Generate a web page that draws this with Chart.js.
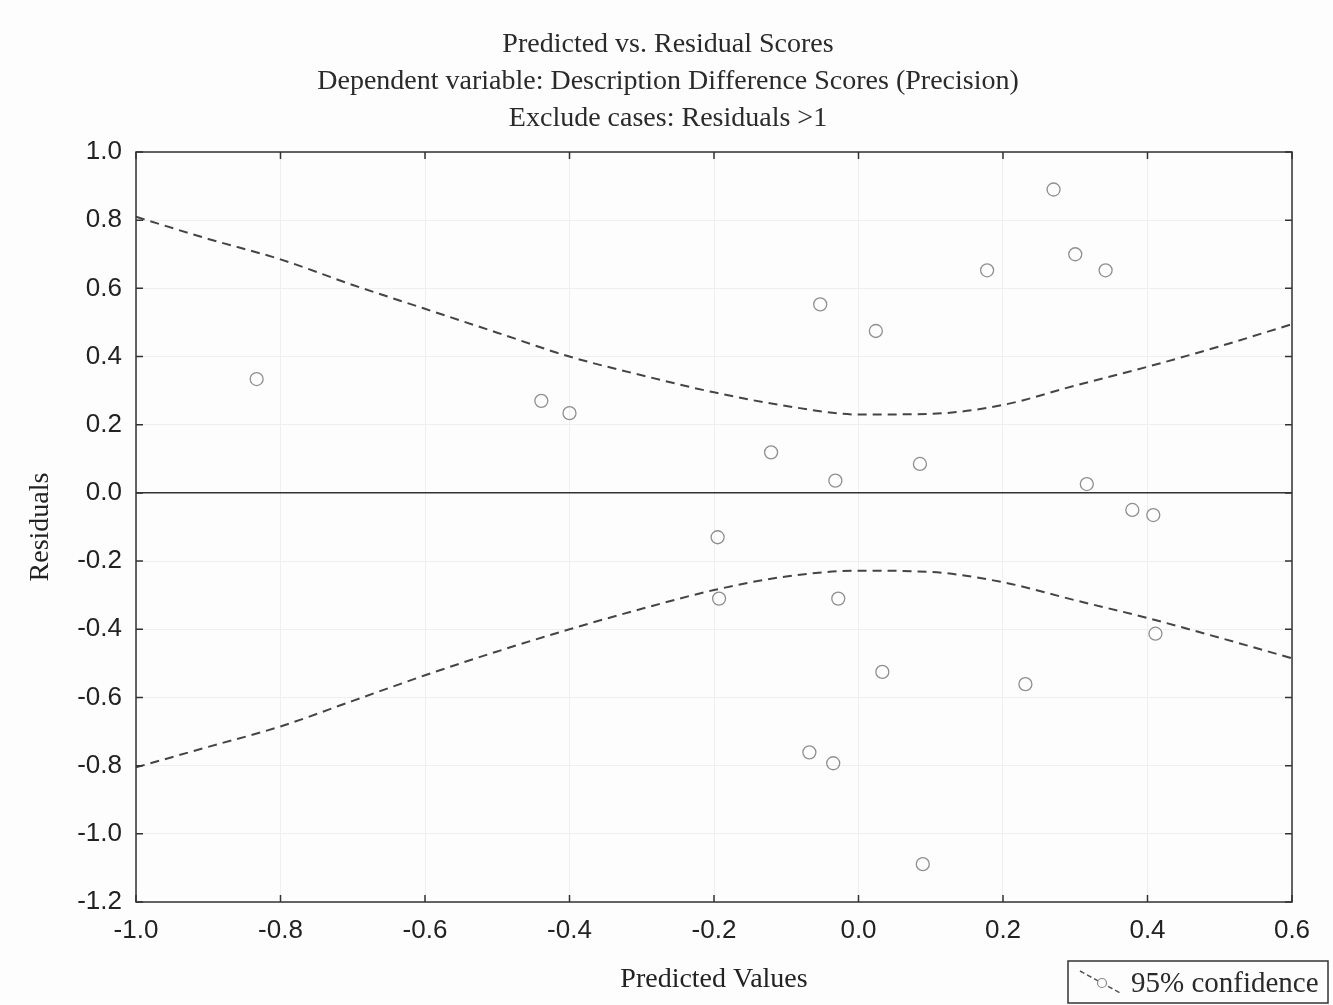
<!DOCTYPE html>
<html>
<head>
<meta charset="utf-8">
<script src="https://cdn.jsdelivr.net/npm/chart.js@4.4.1/dist/chart.umd.min.js"></script>
<style>
  html, body { margin: 0; padding: 0; background: #fdfdfd; }
  #wrap { width: 1333px; height: 1005px; }
</style>
</head>
<body>
<div id="wrap"><canvas id="residChart"></canvas></div>
<script>
// Observed cases: predicted value vs residual
const predicted = [-0.833, -0.439, -0.400, -0.121, -0.053, 0.024, -0.032, 0.085, 0.178, 0.270, 0.300, 0.342,
                   0.316, 0.379, 0.408, 0.411, 0.033, 0.231, -0.068, -0.035, 0.089, -0.028, -0.195, -0.193];
const residuals = [0.334, 0.270, 0.234, 0.119, 0.553, 0.475, 0.036, 0.085, 0.653, 0.890, 0.700, 0.653,
                   0.026, -0.050, -0.065, -0.413, -0.525, -0.561, -0.761, -0.793, -1.089, -0.310, -0.130, -0.310];

// 95% confidence band
const bandX     = [-1.0, -0.9, -0.8, -0.7, -0.6, -0.5, -0.4, -0.3, -0.2, -0.1, 0.0, 0.1, 0.2, 0.3, 0.4, 0.5, 0.6];
const bandUpper = [0.810, 0.745, 0.685, 0.610, 0.540, 0.470, 0.400, 0.345, 0.295, 0.255, 0.230, 0.232, 0.258, 0.315, 0.370, 0.430, 0.495];
const bandLower = [-0.805, -0.745, -0.685, -0.610, -0.535, -0.465, -0.400, -0.340, -0.285, -0.245, -0.228, -0.232, -0.262, -0.315, -0.367, -0.425, -0.485];

const titleLines = ['Predicted vs. Residual Scores',
                    'Dependent variable: Description Difference Scores (Precision)',
                    'Exclude cases: Residuals >1'];
const xTicks = [-1.0, -0.8, -0.6, -0.4, -0.2, 0.0, 0.2, 0.4, 0.6];
const yTicks = [1.0, 0.8, 0.6, 0.4, 0.2, 0.0, -0.2, -0.4, -0.6, -0.8, -1.0, -1.2];

const serif = '"Liberation Serif", "Times New Roman", serif';
const sans = '"Liberation Sans", Arial, sans-serif';

// frame, inward ticks, title lines and legend box
const decorPlugin = {
    id: 'decor',
    afterDatasetsDraw(chart) {
        const ctx = chart.ctx;
        const a = chart.chartArea;
        const xs = chart.scales.x, ys = chart.scales.y;
        ctx.save();
        ctx.strokeStyle = '#333';
        ctx.lineWidth = 1.5;
        ctx.strokeRect(a.left, a.top, a.right - a.left, a.bottom - a.top);
        ctx.beginPath();
        xTicks.forEach(v => {
            const px = xs.getPixelForValue(v);
            ctx.moveTo(px, a.top); ctx.lineTo(px, a.top + 7);
            ctx.moveTo(px, a.bottom); ctx.lineTo(px, a.bottom - 7);
        });
        yTicks.forEach(v => {
            const py = ys.getPixelForValue(v);
            ctx.moveTo(a.left, py); ctx.lineTo(a.left + 7, py);
            ctx.moveTo(a.right, py); ctx.lineTo(a.right - 7, py);
        });
        ctx.stroke();
        ctx.restore();
    },
    afterDraw(chart) {
        const ctx = chart.ctx;
        ctx.save();
        ctx.fillStyle = '#2a2a2a';
        ctx.font = '28px ' + serif;
        ctx.textAlign = 'center';
        ctx.textBaseline = 'middle';
        titleLines.forEach((t, i) => ctx.fillText(t, 668, 45 + i * 37));

        // legend
        ctx.strokeStyle = '#333';
        ctx.lineWidth = 1.5;
        ctx.strokeRect(1068, 961, 260, 42);
        ctx.strokeStyle = '#555';
        ctx.setLineDash([5, 3]);
        ctx.beginPath();
        ctx.moveTo(1080, 971); ctx.lineTo(1122, 994);
        ctx.stroke();
        ctx.setLineDash([]);
        ctx.beginPath();
        ctx.arc(1102, 983, 4.5, 0, Math.PI * 2);
        ctx.fillStyle = '#fdfdfd';
        ctx.fill();
        ctx.strokeStyle = '#888';
        ctx.lineWidth = 1.2;
        ctx.stroke();
        ctx.fillStyle = '#2a2a2a';
        ctx.font = '29px ' + serif;
        ctx.textAlign = 'left';
        ctx.fillText('95% confidence', 1131, 984);
        ctx.restore();
    }
};

const ctx = document.getElementById('residChart').getContext('2d');
const bandStyle = {
    type: 'line',
    borderColor: '#444',
    borderWidth: 2,
    borderDash: [9, 6],
    pointRadius: 0,
    fill: false,
    cubicInterpolationMode: 'monotone'
};

new Chart(ctx, {
    data: {
        datasets: [
            Object.assign({ label: 'Upper 95%', data: bandX.map((x, i) => ({ x: x, y: bandUpper[i] })) }, bandStyle),
            Object.assign({ label: 'Lower 95%', data: bandX.map((x, i) => ({ x: x, y: bandLower[i] })) }, bandStyle),
            {
                type: 'scatter',
                label: 'Residuals',
                data: predicted.map((x, i) => ({ x: x, y: residuals[i] })),
                pointStyle: 'circle',
                pointRadius: 6.5,
                borderWidth: 1.3,
                borderColor: '#8f8f8f',
                backgroundColor: 'rgba(0,0,0,0)'
            }
        ]
    },
    options: {
        responsive: true,
        maintainAspectRatio: false,
        animation: false,
        layout: { padding: { left: 0, top: 152, right: 41, bottom: 0 } },
        plugins: {
            legend: { display: false },
            title: { display: false },
            tooltip: { enabled: false }
        },
        scales: {
            x: {
                type: 'linear',
                min: -1.0,
                max: 0.6,
                afterFit: s => { s.height = 103; },
                afterBuildTicks: s => { s.ticks = xTicks.map(v => ({ value: v })); },
                border: { display: false },
                grid: { color: '#efefef', lineWidth: 1, drawTicks: false },
                ticks: {
                    padding: 13,
                    color: '#222',
                    font: { family: sans, size: 26 },
                    callback: v => v.toFixed(1)
                },
                title: {
                    display: true,
                    text: 'Predicted Values',
                    color: '#222',
                    font: { family: serif, size: 28 },
                    padding: { top: 0, bottom: 9 }
                }
            },
            y: {
                type: 'linear',
                min: -1.2,
                max: 1.0,
                afterFit: s => { s.width = 136; },
                afterBuildTicks: s => { s.ticks = yTicks.map(v => ({ value: v })); },
                border: { display: false },
                grid: {
                    color: c => (c.tick && Math.abs(c.tick.value) < 1e-9) ? '#333' : '#efefef',
                    lineWidth: c => (c.tick && Math.abs(c.tick.value) < 1e-9) ? 1.5 : 1,
                    drawTicks: false
                },
                ticks: {
                    padding: 14,
                    color: '#222',
                    font: { family: sans, size: 26 },
                    callback: v => v.toFixed(1)
                },
                title: {
                    display: true,
                    text: 'Residuals',
                    color: '#222',
                    font: { family: serif, size: 28 },
                    padding: { top: 24, bottom: 0 }
                }
            }
        }
    },
    plugins: [decorPlugin]
});
</script>
</body>
</html>
